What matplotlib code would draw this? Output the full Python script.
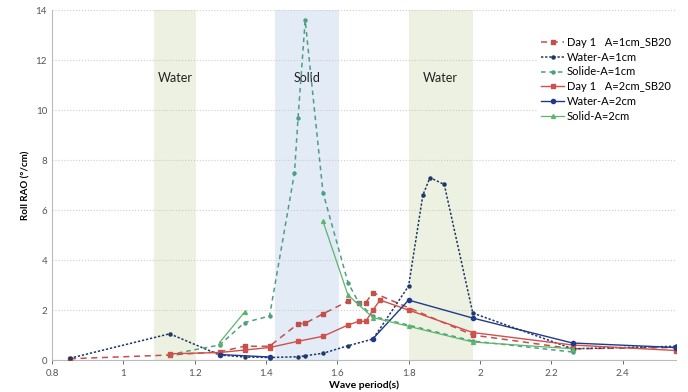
import numpy as np
import matplotlib
matplotlib.use("Agg")
import matplotlib.pyplot as plt

nan = np.nan

# Day 1 A=1cm_SB20 (dashed red)
t_d1_1 = [0.85, 1.13, 1.27, 1.34, 1.41, 1.49, 1.51, 1.56, 1.63, 1.66, 1.68, 1.70, 1.98, 2.26, 2.55]
r_d1_1 = [0.05, 0.20, 0.33, 0.55, 0.55, 1.45, 1.47, 1.85, 2.35, 2.30, 2.30, 2.70, 1.00, 0.45, 0.50]

# Water-A=1cm (dotted navy)
t_w1 = [0.85, 1.13, 1.27, 1.34, 1.41, 1.49, 1.51, 1.56, 1.63, 1.70, 1.80, 1.84, 1.86, 1.90, 1.98, 2.26, 2.55]
r_w1 = [0.07, 1.05, 0.20, 0.12, 0.10, 0.13, 0.17, 0.27, 0.57, 0.84, 2.96, 6.60, 7.30, 7.03, 1.88, 0.45, 0.55]

# Solide-A=1cm (dashed green)
t_s1 = [1.13, 1.27, 1.34, 1.41, 1.48, 1.49, 1.51, 1.56, 1.63, 1.66, 1.70, 1.98, 2.26]
r_s1 = [0.22, 0.60, 1.50, 1.76, 7.50, 9.70, 13.6, 6.70, 3.10, 2.30, 1.75, 0.76, 0.32]

# Day 1 A=2cm_SB20 (solid red)
t_d1_2 = [1.13, 1.27, 1.34, 1.41, 1.49, 1.56, 1.63, 1.66, 1.68, 1.70, 1.72, 1.80, 1.98, 2.26, 2.55]
r_d1_2 = [0.25, 0.30, 0.40, 0.50, 0.75, 0.95, 1.40, 1.55, 1.55, 2.00, 2.40, 2.00, 1.10, 0.60, 0.38]

# Water-A=2cm (solid navy), gap between 1.41 and 1.70
t_w2 = [1.27, 1.41, 1.56, 1.70, 1.80, 1.98, 2.26, 2.55]
r_w2 = [0.22, 0.12, nan, 0.85, 2.40, 1.68, 0.68, 0.50]

# Solid-A=2cm (solid green), gap between 1.34 and 1.56
t_s2 = [1.27, 1.34, 1.45, 1.56, 1.63, 1.70, 1.80, 1.98, 2.26]
r_s2 = [0.70, 1.92, nan, 5.55, 2.60, 1.70, 1.35, 0.72, 0.45]

bands = [(1.085, 1.205, "#EDF1E1", "Water"), (1.425, 1.605, "#E3EBF6", "Solid"), (1.80, 1.98, "#EDF1E1", "Water")]

plt.rcParams['font.family'] = ['Lato', 'DejaVu Sans']

fig = plt.figure(figsize=(6.88, 3.92), dpi=100)
ax = fig.add_axes([0.0756, 0.0816, 0.907, 0.892])

for x0, x1, c, lab in bands:
    ax.axvspan(x0, x1, color=c, zorder=0, lw=0)
    ax.text((x0 + x1) / 2, 11.3, lab, ha='center', va='center', fontsize=9, color='#222222')

ax.plot(t_d1_1, r_d1_1, ls=(0, (4, 3)), color='#C0504D', lw=1.1, marker='s', ms=3.5,
        label='Day 1   A=1cm_SB20', zorder=3)
ax.plot(t_w1, r_w1, ls=(0, (1.5, 1.2)), color='#1F3864', lw=1.1, marker='o', ms=2.2,
        label='Water-A=1cm', zorder=3)
ax.plot(t_s1, r_s1, ls=(0, (3, 2.5)), color='#4E9E84', lw=1.1, marker='o', ms=2.2,
        label='Solide-A=1cm', zorder=3)
ax.plot(t_d1_2, r_d1_2, ls='-', color='#D0504C', lw=1.0, marker='s', ms=3.5,
        label='Day 1   A=2cm_SB20', zorder=3)
ax.plot(t_w2, r_w2, ls='-', color='#1F3A8A', lw=1.0, marker='o', ms=3,
        label='Water-A=2cm', zorder=3)
ax.plot(t_s2, r_s2, ls='-', color='#5DB56A', lw=0.9, marker='^', ms=2.8,
        label='Solid-A=2cm', zorder=3)

ax.set_xlim(0.8, 2.55)
ax.set_ylim(0, 14)
ax.set_xticks([0.8, 1.0, 1.2, 1.4, 1.6, 1.8, 2.0, 2.2, 2.4])
ax.set_xticklabels(['0.8', '1', '1.2', '1.4', '1.6', '1.8', '2', '2.2', '2.4'])
ax.set_yticks(range(0, 15, 2))
ax.tick_params(labelsize=7, colors='#555555', length=3, width=0.6)
ax.tick_params(axis='y', length=0)
ax.grid(axis='y', ls=':', color='#CCCCCC', lw=0.8, zorder=1)
ax.set_axisbelow(True)
for s in ['top', 'right']:
    ax.spines[s].set_visible(False)
for s in ['left', 'bottom']:
    ax.spines[s].set_color('#BBBBBB')

ax.set_xlabel('Wave period(s)', fontsize=7.5, fontweight='bold', labelpad=2)
ax.set_ylabel('Roll RAO (°/cm)', fontsize=7, fontweight='bold', labelpad=4)

leg = ax.legend(loc='upper left', bbox_to_anchor=(0.77, 0.95), fontsize=8, frameon=True,
                handlelength=2.0, handletextpad=0.3, labelspacing=0.35, borderpad=0.3)
leg.get_frame().set_edgecolor('white')
leg.get_frame().set_facecolor('white')
leg.get_frame().set_alpha(1)

fig.savefig('out.png', dpi=100)
